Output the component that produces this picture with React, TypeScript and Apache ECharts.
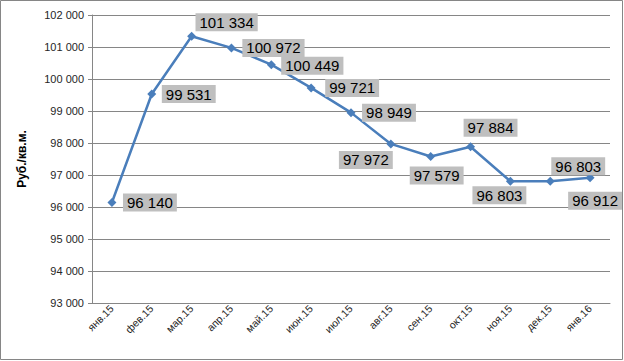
import React, { useEffect, useRef } from "react";
import * as echarts from "echarts";

const categories = ["янв.15", "фев.15", "мар.15", "апр.15", "май.15", "июн.15", "июл.15", "авг.15", "сен.15", "окт.15", "ноя.15", "дек.15", "янв.16"];
const values = [96140, 99531, 101334, 100972, 100449, 99721, 98949, 97972, 97579, 97884, 96803, 96803, 96912];
const labelOffsets: [number, number][] = [
  [38, 0], [37, 0], [35, -14], [42, 0], [41, 1], [41, 0], [38, 0],
  [-25, 16], [6, 19], [20, -19], [-11, 14], [28, -15], [5, 23],
];
const yTicks = { min: 93000, max: 102000, interval: 1000 };
const yName = "Руб./кв.м.";

const fmt = (v: number) => {
  const s = String(Math.round(v));
  return s.replace(/\B(?=(\d{3})+(?!\d))/g, " ");
};

export default function App() {
  const ref = useRef<HTMLDivElement>(null);
  useEffect(() => {
    if (!ref.current) return;
    const chart = echarts.init(ref.current, undefined, { renderer: "svg" });
    const font = "'Liberation Sans', Arial, sans-serif";
    chart.setOption({
      animation: false,
      backgroundColor: "#ffffff",
      textStyle: { fontFamily: font },
      graphic: [
        {
          type: "rect",
          shape: { x: 0.5, y: 0.5, width: 622, height: 359 },
          style: { fill: "none", stroke: "#868686", lineWidth: 1 },
          silent: true,
        },
      ],
      grid: { left: 92, right: 14, top: 15, bottom: 58 },
      xAxis: {
        type: "category",
        data: categories,
        boundaryGap: true,
        axisLine: { lineStyle: { color: "#868686", width: 1 } },
        axisTick: { show: false },
        axisLabel: { rotate: 45, fontSize: 10.5, color: "#262626", margin: 4, fontFamily: font },
      },
      yAxis: {
        type: "value",
        min: yTicks.min,
        max: yTicks.max,
        interval: yTicks.interval,
        name: yName,
        nameLocation: "middle",
        nameGap: 64,
        nameRotate: 90,
        nameTextStyle: { fontSize: 12, fontWeight: "bold", color: "#000000", fontFamily: font },
        axisLine: { show: true, lineStyle: { color: "#868686", width: 1 } },
        axisTick: { show: true, length: 4, lineStyle: { color: "#868686" } },
        splitLine: { show: true, lineStyle: { color: "#868686", width: 1 } },
        axisLabel: { fontSize: 11, color: "#262626", margin: 8, formatter: (v: number) => fmt(v), fontFamily: font },
      },
      series: [
        {
          type: "line",
          data: values.map((v, i) => ({
            value: v,
            label: { offset: labelOffsets[i] },
          })),
          lineStyle: { color: "#4a7ebb", width: 2.5 },
          itemStyle: { color: "#4a7ebb" },
          symbol: "diamond",
          symbolSize: 9,
          showSymbol: true,
          label: {
            show: true,
            position: "inside",
            formatter: (p: any) => fmt(p.value),
            fontSize: 15,
            color: "#000000",
            backgroundColor: "#bfbfbf",
            padding: [2, 4, 1, 4],
            fontFamily: font,
          },
        },
      ],
    });
    return () => chart.dispose();
  }, []);
  return (
    <div
      ref={ref}
      style={{ position: "absolute", left: 0, top: 0, width: 624, height: 361 }}
    />
  );
}
